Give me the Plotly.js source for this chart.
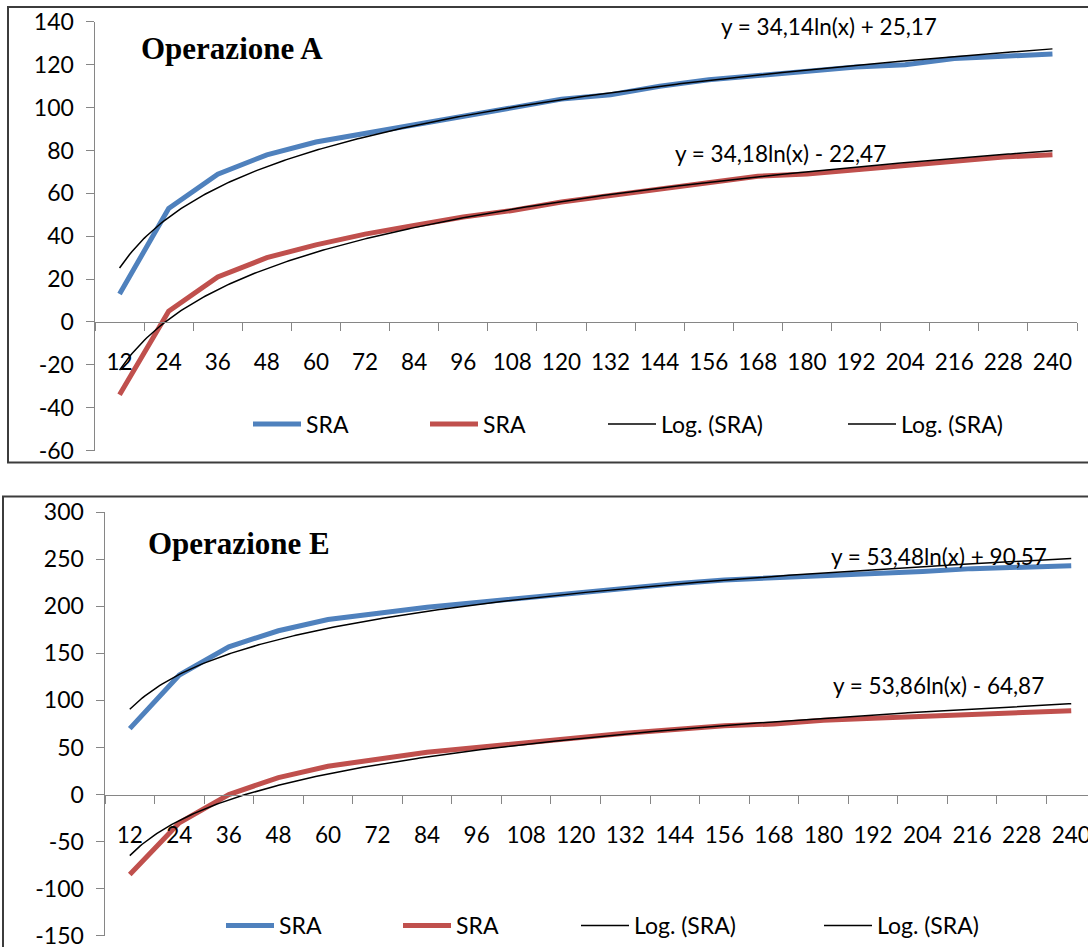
<!DOCTYPE html>
<html>
<head>
<meta charset="utf-8">
<script src="https://cdn.plot.ly/plotly-3.0.1.min.js"></script>
<style>
html,body{margin:0;padding:0;overflow:hidden;background:#fff;}
#chart{width:1100px;height:947px;}
</style>
</head>
<body>
<div id="chart"></div>
<script>
// ---- data ----
const categories = ['12','24','36','48','60','72','84','96','108','120','132','144','156','168','180','192','204','216','228','240'];

const sraA_blue = [13,53,69,78,84,88,92,96,100,104,106,110,113,115,117,119,120,123,124,125];
const sraA_red  = [-34,5,21,30,36,41,45,49,52,56,59,62,65,68,69,71,73,75,77,78];
const sraE_blue = [70,127,157,174,186,193,199,204,209,215,219,224,228,230,232,235,237,240,241,243];
const sraE_red  = [-85,-30,0,18,30,38,45,50,55,61,65,69,73,75,79,81,83,86,87,89];

// logarithmic trend lines as printed on the chart: y = a*ln(x) + b (x = category index)
const trendA_blue = [34.14, 25.17];
const trendA_red  = [34.18, -22.47];
const trendE_blue = [53.48, 90.57];
const trendE_red  = [53.86, -64.87];

const equationA_blue = 'y = 34,14ln(x) + 25,17';
const equationA_red  = 'y = 34,18ln(x) - 22,47';
const equationE_blue = 'y = 53,48ln(x) + 90,57';
const equationE_red  = 'y = 53,86ln(x) - 64,87';

const yTicksA = [-60,-40,-20,0,20,40,60,80,100,120,140];
const yLabelsA = ['-60','-40','-20','0','20','40','60','80','100','120','140'];
const yTicksE = [-150,-100,-50,0,50,100,150,200,250,300];
const yLabelsE = ['-150','-100','-50','0','50','100','150','200','250','300'];

const titleA = 'Operazione A';
const titleE = 'Operazione E';
const seriesName = 'SRA';
const trendName = 'Log. (SRA)';

// ---- helpers ----
const W = 1100, H = 947;
const px = x => x / W;
const py = y => 1 - y / H;
const idx = categories.map((_, i) => i + 1);
function trend(coef) {
  const xs = [], ys = [];
  for (let t = 1; t <= categories.length + 1e-9; t += 0.05) {
    xs.push(t); ys.push(coef[0] * Math.log(t) + coef[1]);
  }
  return {xs, ys};
}

const BLUE = '#4F81BD', RED = '#C0504D', AXIS = '#868686';
const FONT = 'Lato, "Open Sans", sans-serif';

function dataTrace(y, color, xa, ya, leg) {
  return {x: idx, y: y, type: 'scatter', mode: 'lines', name: seriesName,
    line: {color: color, width: 5}, xaxis: xa, yaxis: ya, legend: leg, hoverinfo: 'x+y'};
}
function trendTrace(coef, xa, ya, leg) {
  const t = trend(coef);
  return {x: t.xs, y: t.ys, type: 'scatter', mode: 'lines', name: trendName,
    line: {color: '#000000', width: 1.5}, xaxis: xa, yaxis: ya, legend: leg, hoverinfo: 'skip'};
}

const traces = [
  dataTrace(sraA_blue, BLUE, 'x', 'y', 'legend'),
  dataTrace(sraA_red, RED, 'x', 'y', 'legend2'),
  trendTrace(trendA_blue, 'x', 'y', 'legend3'),
  trendTrace(trendA_red, 'x', 'y', 'legend4'),
  dataTrace(sraE_blue, BLUE, 'x2', 'y2', 'legend5'),
  dataTrace(sraE_red, RED, 'x2', 'y2', 'legend6'),
  trendTrace(trendE_blue, 'x2', 'y2', 'legend7'),
  trendTrace(trendE_red, 'x2', 'y2', 'legend8')
];

function xaxisDef(domain, zeroPix) {
  return {
    domain: domain, range: [0.5, categories.length + 0.5], anchor: 'free', position: py(zeroPix),
    tickmode: 'array', tickvals: idx, ticktext: categories, ticks: '',
    minor: {ticks: 'outside', ticklen: 8, tickcolor: AXIS, tickwidth: 1, tick0: 0.5, dtick: 1},
    showline: true, linecolor: AXIS, linewidth: 1.5, showgrid: false, zeroline: false,
    tickfont: {family: FONT, size: 22.5, color: '#000'}, ticklabelstandoff: 20,
    ticklabeloverflow: 'allow', fixedrange: true
  };
}
function yaxisDef(domain, range, vals, labels, anchor) {
  return {
    domain: domain, range: range, tickmode: 'array', tickvals: vals, ticktext: labels, anchor: anchor,
    ticks: 'outside', ticklen: 8, tickcolor: AXIS, tickwidth: 1,
    showline: true, linecolor: AXIS, linewidth: 1.5, showgrid: false, zeroline: false,
    tickfont: {family: FONT, size: 23, color: '#000'}, ticklabelstandoff: 7,
    ticklabeloverflow: 'allow', fixedrange: true
  };
}

function legendDef(xPix, yPix) {
  return {x: px(xPix), y: py(yPix), xanchor: 'left', yanchor: 'middle', orientation: 'h',
    bgcolor: 'rgba(0,0,0,0)', borderwidth: 0, font: {family: FONT, size: 23, color: '#000'},
    itemwidth: 48, tracegroupgap: 0};
}

const layout = {
  width: W, height: H, margin: {l: 0, r: 0, t: 0, b: 0},
  paper_bgcolor: '#fff', plot_bgcolor: 'rgba(0,0,0,0)',
  showlegend: true,
  xaxis: xaxisDef([px(95), px(1077)], 322.3),
  yaxis: yaxisDef([py(451), py(22)], [-60, 140], yTicksA, yLabelsA, 'x'),
  xaxis2: xaxisDef([px(105), px(1096)], 795.4),
  yaxis2: yaxisDef([py(936.7), py(512.7)], [-150, 300], yTicksE, yLabelsE, 'x2'),
  legend: legendDef(248, 424),
  legend2: legendDef(425, 424),
  legend3: legendDef(603, 424),
  legend4: legendDef(843, 424),
  legend5: legendDef(221, 926),
  legend6: legendDef(398, 926),
  legend7: legendDef(576, 926),
  legend8: legendDef(819, 926),
  shapes: [
    {type: 'rect', xref: 'paper', yref: 'paper', x0: px(8), x1: 1.05, y0: py(463), y1: py(7),
      line: {color: '#3c3c3c', width: 2}, layer: 'below'},
    {type: 'rect', xref: 'paper', yref: 'paper', x0: px(3), x1: 1.05, y0: -0.05, y1: py(497),
      line: {color: '#3c3c3c', width: 2}, layer: 'below'}
  ],
  annotations: [
    {text: '<b>' + titleA + '</b>', xref: 'paper', yref: 'paper', x: px(232), y: py(49),
      xanchor: 'center', yanchor: 'middle', showarrow: false,
      font: {family: '"Liberation Serif", serif', size: 31, color: '#000'}},
    {text: '<b>' + titleE + '</b>', xref: 'paper', yref: 'paper', x: px(239), y: py(544),
      xanchor: 'center', yanchor: 'middle', showarrow: false,
      font: {family: '"Liberation Serif", serif', size: 31, color: '#000'}},
    {text: equationA_blue, xref: 'paper', yref: 'paper', x: px(829), y: py(27),
      xanchor: 'center', yanchor: 'middle', showarrow: false, font: {family: FONT, size: 22.5, color: '#000'}},
    {text: equationA_red, xref: 'paper', yref: 'paper', x: px(780), y: py(154),
      xanchor: 'center', yanchor: 'middle', showarrow: false, font: {family: FONT, size: 22.5, color: '#000'}},
    {text: equationE_blue, xref: 'paper', yref: 'paper', x: px(939), y: py(557),
      xanchor: 'center', yanchor: 'middle', showarrow: false, font: {family: FONT, size: 22.5, color: '#000'}},
    {text: equationE_red, xref: 'paper', yref: 'paper', x: px(938), y: py(686),
      xanchor: 'center', yanchor: 'middle', showarrow: false, font: {family: FONT, size: 22.5, color: '#000'}}
  ]
};

Plotly.newPlot('chart', traces, layout, {staticPlot: true, displayModeBar: false});
</script>
</body>
</html>
